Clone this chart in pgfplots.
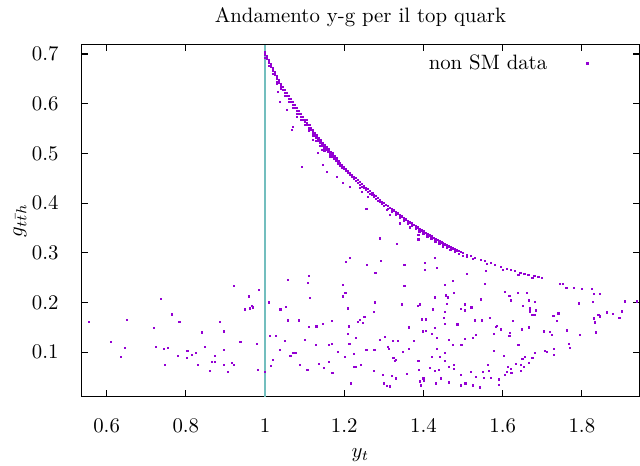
\documentclass[border=0pt]{standalone}
\usepackage{pgfplots}
\pgfplotsset{compat=1.18}
\definecolor{ptcol}{RGB}{148,0,211}
\definecolor{vline}{RGB}{115,190,190}
\begin{document}
\begin{tikzpicture}
\useasboundingbox (-39.09pt,-33.32pt) rectangle (268.6pt,190.7pt);
\begin{axis}[
 scale only axis, width=268.4pt, height=169.2pt,
 xmin=0.5361, xmax=1.9457, ymin=0.0105, ymax=0.7187,
 xtick={0.6,0.8,1,1.2,1.4,1.6,1.8},
 ytick={0.1,0.2,0.3,0.4,0.5,0.6,0.7},
 tick align=inside, xtick pos=both, ytick pos=both,
 major tick length=3pt,
 axis line style={line width=0.6pt},
 tick style={line width=0.5pt, black},
 xticklabel style={anchor=base, yshift=-17pt},
 yticklabel style={xshift=-7.4pt},
 title={Andamento y-g per il top quark},
 title style={at={(axis description cs:0.5,1)}, anchor=base, yshift=4.6pt},
 xlabel={$y_t$}, xlabel style={at={(axis description cs:0.5,-0.165)}, anchor=center},
 ylabel={$g_{t\bar{t}h}$}, ylabel style={at={(axis description cs:-0.1098,0.5)}, anchor=center},
 legend plot pos=right,
 legend style={at={(axis description cs:0.603,0.947)}, anchor=west, draw=none, fill=none, column sep=17pt},
]
\addplot[vline, line width=1pt, forget plot] coordinates {(1,0.0105) (1,0.7187)};
\addplot[only marks, mark=square*, mark size=0.3pt, color=ptcol, mark options={fill=ptcol, draw=none}] coordinates {
(1.000,.703) (1.005,.695) (1.010,.687) (1.015,.679) (1.020,.671) (1.025,.663) (1.030,.655) (1.035,.647) (1.040,.640) (1.045,.633)
(1.050,.627) (1.055,.621) (1.060,.615) (1.065,.609) (1.070,.603) (1.075,.597) (1.080,.591) (1.085,.585) (1.090,.579) (1.095,.573)
(1.100,.568) (1.105,.562) (1.110,.557) (1.115,.552) (1.120,.547) (1.125,.541) (1.130,.536) (1.135,.531) (1.140,.526) (1.145,.521)
(1.150,.517) (1.155,.512) (1.160,.508) (1.165,.503) (1.170,.499) (1.175,.494) (1.180,.490) (1.185,.485) (1.190,.481) (1.195,.477)
(1.200,.473) (1.205,.469) (1.210,.465) (1.215,.461) (1.220,.457) (1.225,.453) (1.230,.450) (1.235,.446) (1.240,.442) (1.245,.438)
(1.250,.435) (1.255,.431) (1.260,.428) (1.265,.424) (1.270,.421) (1.275,.417) (1.280,.414) (1.285,.410) (1.290,.407) (1.295,.403)
(1.300,.400) (1.305,.397) (1.310,.394) (1.315,.391) (1.320,.388) (1.325,.385) (1.330,.382) (1.335,.379) (1.340,.376) (1.345,.373)
(1.350,.370) (1.355,.367) (1.360,.364) (1.365,.361) (1.370,.359) (1.375,.356) (1.380,.354) (1.385,.351) (1.390,.348) (1.395,.345)
(1.400,.343) (1.405,.340) (1.410,.338) (1.415,.335) (1.420,.333) (1.425,.330) (1.430,.328) (1.435,.326) (1.440,.324) (1.445,.321)
(1.450,.319) (1.455,.317) (1.460,.315) (1.465,.313) (1.470,.311) (1.475,.309) (1.480,.307) (1.485,.305) (1.490,.303) (1.495,.301)
(1.500,.299)
(1.51,.296) (1.52,.293) (1.53,.290) (1.545,.285) (1.555,.283) (1.57,.279) (1.58,.276) (1.595,.271) (1.61,.268) (1.62,.265)
(1.63,.263) (1.645,.260) (1.655,.258) (1.665,.256) (1.68,.253) (1.69,.251) (1.70,.249)
(1.525,.287) (1.56,.277) (1.60,.265) (1.64,.256) (1.675,.249)
(1.000,.698) (1.005,.690) (1.010,.682) (1.015,.674) (1.020,.666) (1.025,.658) (1.030,.650) (1.035,.642) (1.040,.635) (1.045,.628)
(1.050,.622) (1.055,.616) (1.060,.610) (1.065,.604) (1.070,.598) (1.075,.592) (1.080,.586) (1.085,.580) (1.090,.574) (1.095,.568)
(1.100,.563) (1.105,.557) (1.110,.552) (1.115,.547) (1.120,.542) (1.125,.536) (1.130,.531) (1.135,.526) (1.140,.521) (1.145,.516)
(1.150,.512) (1.155,.507) (1.160,.503) (1.165,.498) (1.170,.494) (1.175,.489) (1.180,.485) (1.185,.480) (1.190,.476) (1.195,.472)
(1.200,.468) (1.205,.464) (1.210,.460) (1.215,.456) (1.220,.452) (1.225,.448) (1.230,.445) (1.235,.441) (1.240,.437) (1.245,.433)
(1.250,.430) (1.255,.426) (1.260,.423) (1.265,.419) (1.270,.416) (1.275,.412) (1.280,.409) (1.285,.405) (1.290,.402) (1.295,.398)
(1.300,.395)
(1.31,.389) (1.32,.383) (1.33,.377) (1.34,.371) (1.35,.365) (1.36,.359) (1.37,.354) (1.38,.349) (1.39,.343) (1.40,.338)
(1.41,.333) (1.42,.328) (1.43,.323) (1.44,.319) (1.45,.314) (1.46,.310) (1.47,.306) (1.48,.302) (1.49,.298) (1.50,.294)
(1.00,.692) (1.01,.676) (1.02,.660) (1.03,.644) (1.04,.629) (1.05,.616) (1.06,.604) (1.07,.592) (1.08,.580) (1.09,.568)
(1.10,.557) (1.11,.546) (1.12,.536) (1.13,.525) (1.14,.515) (1.15,.506)
(1.030,.641) (1.033,.624) (1.038,.603) (1.056,.587) (1.068,.547) (1.071,.553) (1.093,.473) (1.146,.477) (1.157,.463) (1.182,.453)
(1.197,.440) (1.215,.432) (1.240,.430) (1.121,.527) (1.131,.537) (1.114,.557) (1.081,.573) (1.106,.567) (1.134,.501) (1.144,.507)
(1.164,.493) (1.172,.501)
(1.244,.423) (1.256,.388) (1.260,.413) (1.273,.420) (1.307,.386) (1.316,.376) (1.341,.359) (1.366,.351) (1.387,.336) (1.396,.345)
(1.387,.327) (1.450,.312) (1.467,.306) (1.509,.292) (1.429,.289) (1.290,.329) (1.333,.318) (1.446,.322)
(0.556,.161) (0.610,.121) (0.636,.090) (0.646,.109) (0.652,.165) (0.720,.149) (0.725,.110) (0.737,.207) (0.745,.106) (0.747,.074)
(0.755,.109) (0.765,.176) (0.780,.092) (0.784,.161) (0.803,.089) (0.804,.102) (0.816,.095) (0.825,.098) (0.831,.074) (0.841,.140)
(0.848,.110) (0.860,.062) (0.865,.080) (0.873,.081) (0.874,.093) (0.886,.161) (0.896,.142) (0.897,.074) (0.896,.104) (0.907,.061)
(0.917,.078) (0.921,.074) (0.921,.234) (0.938,.121) (0.949,.186) (0.960,.212) (0.962,.188) (0.967,.193) (0.969,.190) (0.980,.117)
(0.982,.065) (0.985,.225) (0.999,.061) (1.010,.200)
(1.013,.132) (1.014,.073) (1.019,.084) (1.027,.133) (1.038,.104) (1.039,.186) (1.050,.122) (1.053,.191) (1.058,.246) (1.058,.164)
(1.064,.093) (1.071,.098) (1.077,.098) (1.085,.164) (1.088,.074) (1.101,.124) (1.107,.064) (1.109,.239) (1.111,.253) (1.111,.151)
(1.113,.209) (1.129,.114) (1.130,.152) (1.136,.077) (1.146,.157) (1.148,.068) (1.161,.081) (1.162,.114) (1.168,.116) (1.169,.163)
(1.170,.059) (1.184,.100) (1.196,.236) (1.197,.212) (1.201,.091) (1.203,.219) (1.204,.281) (1.209,.137) (1.210,.188) (1.212,.152)
(1.213,.117) (1.215,.290) (1.217,.037) (1.224,.097) (1.224,.070) (1.230,.129) (1.230,.070) (1.234,.161) (1.240,.165) (1.242,.075)
(1.248,.159) (1.251,.171) (1.256,.105) (1.258,.276) (1.274,.062) (1.274,.181) (1.276,.105) (1.278,.200) (1.279,.259) (1.290,.125)
(1.293,.284) (1.298,.054) (1.301,.037) (1.303,.131) (1.308,.032) (1.311,.110) (1.312,.106) (1.315,.031) (1.321,.052) (1.323,.122)
(1.324,.088) (1.328,.082) (1.331,.084) (1.331,.047) (1.335,.122) (1.345,.196) (1.348,.100) (1.352,.276) (1.352,.233) (1.359,.056)
(1.363,.106) (1.364,.150) (1.376,.123) (1.386,.193) (1.387,.082) (1.388,.064) (1.391,.196) (1.391,.041) (1.394,.033) (1.396,.166)
(1.399,.142) (1.400,.047) (1.402,.043) (1.403,.279) (1.403,.265) (1.406,.143) (1.407,.166) (1.416,.068) (1.421,.137) (1.421,.091)
(1.424,.186) (1.429,.210) (1.429,.063) (1.429,.149) (1.431,.037) (1.434,.128) (1.434,.269) (1.434,.106) (1.439,.064) (1.442,.091)
(1.445,.047) (1.451,.169) (1.454,.235) (1.454,.181) (1.454,.157) (1.455,.082) (1.455,.098) (1.457,.214) (1.459,.197) (1.461,.210)
(1.464,.125) (1.464,.070) (1.465,.039)
(1.509,.257) (1.558,.264) (1.556,.237) (1.474,.244) (1.476,.219) (1.474,.115) (1.486,.156) (1.494,.187) (1.496,.114) (1.504,.196)
(1.505,.184) (1.505,.126) (1.521,.190) (1.525,.128) (1.530,.164) (1.532,.134) (1.546,.206) (1.548,.164) (1.568,.169) (1.578,.136)
(1.578,.102) (1.582,.151) (1.585,.153) (1.596,.146) (1.604,.092) (1.605,.222) (1.617,.213) (1.617,.133) (1.619,.138) (1.621,.204)
(1.626,.163) (1.639,.219) (1.640,.114) (1.648,.146) (1.652,.193) (1.662,.219) (1.666,.150) (1.667,.204) (1.668,.182) (1.669,.188)
(1.674,.175) (1.680,.175) (1.682,.201) (1.684,.184) (1.705,.142) (1.720,.141) (1.725,.134) (1.728,.173) (1.737,.163) (1.741,.178)
(1.745,.237) (1.752,.238) (1.761,.229) (1.762,.144) (1.768,.117) (1.770,.108) (1.779,.229) (1.792,.198) (1.795,.134) (1.800,.228)
(1.825,.228) (1.828,.201) (1.831,.217) (1.831,.168) (1.833,.160) (1.835,.140) (1.842,.175) (1.846,.217) (1.846,.172) (1.863,.180)
(1.878,.177) (1.895,.169) (1.901,.182) (1.909,.202) (1.939,.202)
(1.477,.074) (1.476,.066) (1.494,.054) (1.495,.033) (1.506,.037) (1.520,.060) (1.525,.033) (1.532,.050) (1.543,.029) (1.551,.060)
(1.552,.048) (1.563,.074) (1.566,.062) (1.571,.048) (1.590,.034) (1.591,.045) (1.606,.054) (1.610,.060) (1.614,.070) (1.621,.066)
(1.622,.059) (1.634,.076) (1.646,.075) (1.646,.062) (1.650,.086) (1.654,.070) (1.657,.090) (1.667,.078) (1.675,.089) (1.682,.098)
(1.707,.103) (1.711,.101) (1.730,.106) (1.730,.095)
};
\addlegendentry{non SM data}
\end{axis}
\end{tikzpicture}
\end{document}
